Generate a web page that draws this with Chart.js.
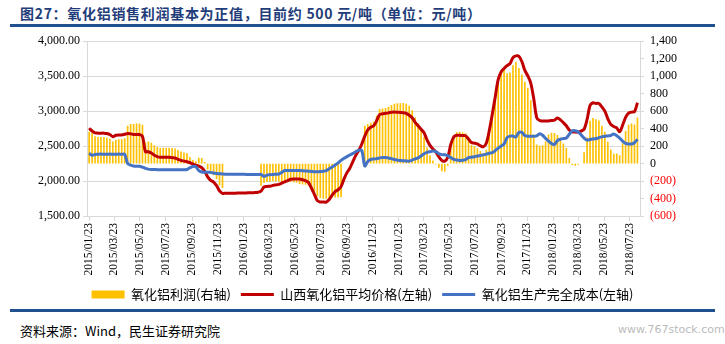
<!DOCTYPE html>
<html lang="zh-CN">
<head>
    <meta charset="UTF-8">
    <title>氧化铝销售利润</title>
    <script src="https://cdn.jsdelivr.net/npm/chart.js"></script>
    <style>
        body { margin: 0; background: #fff; }
        #wrap { position: relative; width: 725px; height: 344px; overflow: hidden; font-family: "Noto Sans CJK SC", sans-serif; }
        #title { position: absolute; left: 20px; top: 3px; font-size: 14px; letter-spacing: 0.7px; font-weight: bold; color: #1f3d7a; white-space: nowrap; }
        .rule { position: absolute; left: 10px; width: 705px; height: 3px; background: #21508f; }
        #source { position: absolute; left: 20px; top: 321px; font-size: 13px; color: #000; white-space: nowrap; }
        #mark { position: absolute; left: 618px; top: 323px; font-size: 11px; color: #bbb; font-family: "DejaVu Sans", sans-serif; }
        #chartBox { position: absolute; left: 0; top: 28px; }
    </style>
</head>
<body>
<div id="wrap">
    <div id="title">图27：氧化铝销售利润基本为正值，目前约 500 元/吨（单位：元/吨）</div>
    <div class="rule" style="top:24px"></div>
    <canvas id="chartBox" width="725" height="283"></canvas>
    <div class="rule" style="top:309px"></div>
    <div id="source">资料来源：Wind，民生证券研究院</div>
    <div id="mark">www.767stock.com</div>
</div>

<script>
    // weekly data, first week = 2015/01/23
    const startLabel = '2015/01/23';

    // 山西氧化铝平均价格 (左轴)
    const price = [
        2755, 2715, 2690, 2685, 2685, 2685, 2680, 2665, 2635, 2655,
        2660, 2660, 2670, 2680, 2675, 2665, 2665, 2665, 2640, 2420,
        2420, 2400, 2370, 2350, 2340, 2340, 2340, 2340, 2335, 2330,
        2310, 2295, 2285, 2275, 2262, 2245, 2228, 2212, 2190, 2140,
        2060, 2010, 1985, 1935, 1860, 1825, 1825, 1825, 1825, 1825,
        1828, 1828, 1830, 1830, 1832, 1832, 1835, 1840, 1855, 1915,
        1923, 1925, 1938, 1945, 1952, 1970, 1988, 2005, 2025, 2030,
        2030, 2030, 2018, 2005, 1980, 1900, 1810, 1720, 1700, 1700,
        1700, 1735, 1800, 1850, 1875, 1920, 2030, 2120, 2187, 2280,
        2370, 2440, 2530, 2643, 2730, 2770, 2790, 2862, 2950, 2962,
        2968, 2975, 2985, 2988, 2985, 2980, 2978, 2968, 2942, 2905,
        2840, 2790, 2740, 2690, 2590, 2510, 2460, 2415, 2345, 2295,
        2285, 2340, 2520, 2630, 2655, 2655, 2650, 2648, 2600, 2550,
        2542, 2530, 2505, 2490, 2540, 2720, 2950, 3200, 3450, 3560,
        3610, 3650, 3680, 3765, 3790, 3785, 3710, 3582, 3505, 3400,
        3180, 2908, 2865, 2860, 2860, 2860, 2865, 2872, 2900, 2875,
        2835, 2790, 2730, 2705, 2700, 2700, 2715, 2740, 2880, 3080,
        3120, 3110, 3110, 3060, 3000, 2890, 2810, 2780, 2760, 2705,
        2800, 2910, 2970, 2985, 2992, 3120
    ];

    // 氧化铝生产完全成本 (左轴)
    const cost = [
        2397, 2370, 2380, 2383, 2385, 2383, 2383, 2385, 2383, 2383,
        2385, 2383, 2383, 2250, 2228, 2215, 2211, 2211, 2198, 2182,
        2170, 2165, 2165, 2163, 2163, 2162, 2162, 2162, 2162, 2160,
        2160, 2162, 2162, 2165, 2190, 2208, 2205, 2150, 2130, 2126,
        2125, 2124, 2115, 2108, 2104, 2100, 2098, 2098, 2097, 2097,
        2097, 2096, 2096, 2095, 2095, 2095, 2094, 2094, 2094, 2065,
        2085, 2090, 2095, 2097, 2100, 2125, 2150, 2152, 2152, 2152,
        2150, 2150, 2148, 2145, 2141, 2138, 2132, 2132, 2135, 2140,
        2150, 2175, 2200, 2228, 2260, 2295, 2325, 2350, 2372, 2395,
        2420, 2440, 2435, 2215, 2280, 2308, 2315, 2320, 2330, 2337,
        2335, 2330, 2320, 2308, 2300, 2293, 2290, 2287, 2285, 2300,
        2318, 2330, 2360, 2390, 2410, 2420, 2428, 2420, 2390, 2378,
        2375, 2362, 2335, 2310, 2300, 2295, 2298, 2305, 2335, 2340,
        2348, 2358, 2365, 2374, 2385, 2397, 2405, 2435, 2470, 2500,
        2530, 2620, 2643, 2643, 2632, 2695, 2695, 2650, 2640, 2640,
        2640, 2645, 2676, 2655, 2610, 2570, 2536, 2525, 2578, 2598,
        2608, 2615, 2670, 2718, 2720, 2700, 2660, 2615, 2585, 2595,
        2602, 2606, 2620, 2632, 2640, 2645, 2652, 2672, 2648, 2615,
        2570, 2540, 2530, 2530, 2548, 2597
    ];

    // 氧化铝利润 (右轴)
    const profit = [
        360, 345, 310, 300, 300, 300, 295, 280, 250, 270,
        275, 275, 285, 430, 450, 450, 455, 455, 440, 240,
        250, 235, 205, 185, 175, 178, 178, 178, 173, 168,
        150, 135, 123, 113, 70, 37, 23, 62, 60, 14,
        -65, -114, -130, -173, -244, -275, null, null, null, null,
        null, null, null, null, null, null, null, null, -250, -215,
        -205, -205, -200, -200, -205, -210, -215, -210, -205, -210,
        -215, -230, -235, -240, -250, -280, -330, -370, -390, -400,
        -400, -395, -385, -385, -385, -380, null, null, null, null,
        null, null, null, 428, 450, 462, 475, 542, 620, 625,
        633, 645, 665, 680, 685, 687, 688, 681, 657, 605,
        522, 460, 380, 300, 180, 90, 32, -5, -45, -83,
        -90, -22, 185, 320, 355, 360, 352, 343, 265, 210,
        194, 172, 140, 116, 155, 323, 545, 765, 980, 1060,
        1080, 1030, 1037, 1122, 1158, 1090, 1015, 932, 865, 720,
        330, 214, 200, 205, 250, 330, 350, 347, 322, 277,
        227, 175, 60, -13, -20, -10, null, 125, 295, 485,
        518, 504, 490, 428, 360, 245, 158, 108, 112, 90,
        230, 370, 440, 455, 444, 523
    ];

    const tickLabels = [
        '2015/01/23', '2015/03/23', '2015/05/23', '2015/07/23', '2015/09/23', '2015/11/23',
        '2016/01/23', '2016/03/23', '2016/05/23', '2016/07/23', '2016/09/23', '2016/11/23',
        '2017/01/23', '2017/03/23', '2017/05/23', '2017/07/23', '2017/09/23', '2017/11/23',
        '2018/01/23', '2018/03/23', '2018/05/23', '2018/07/23'
    ];

    // days since first week
    function dayOf(label) {
        const p = label.split('/').map(Number);
        const s = startLabel.split('/').map(Number);
        return (Date.UTC(p[0], p[1] - 1, p[2]) - Date.UTC(s[0], s[1] - 1, s[2])) / 86400000;
    }
    const tickDays = tickLabels.map(dayOf);
    const weekDays = price.map((v, i) => i * 7);

    const serif = { family: 'Liberation Serif', size: 12 };

    const legendItems = [
        { text: '氧化铝利润(右轴)', fillStyle: '#FFC000', strokeStyle: '#FFC000', lineWidth: 0, pointStyle: 'rect', datasetIndex: 0 },
        { text: '山西氧化铝平均价格(左轴)', fillStyle: '#C00000', strokeStyle: '#C00000', lineWidth: 3, pointStyle: 'line', datasetIndex: 1 },
        { text: '氧化铝生产完全成本(左轴)', fillStyle: '#4472C4', strokeStyle: '#4472C4', lineWidth: 3, pointStyle: 'line', datasetIndex: 2 }
    ];

    const ctx = document.getElementById('chartBox').getContext('2d');
    new Chart(ctx, {
        type: 'bar',
        data: {
            labels: weekDays,
            datasets: [
                {
                    type: 'bar',
                    label: '氧化铝利润(右轴)',
                    data: profit,
                    yAxisID: 'yR',
                    backgroundColor: '#FFC000',
                    barThickness: 1,
                    order: 2
                },
                {
                    type: 'line',
                    label: '山西氧化铝平均价格(左轴)',
                    data: price,
                    yAxisID: 'y',
                    borderColor: '#C00000',
                    borderWidth: 3,
                    pointRadius: 0,
                    tension: 0.3,
                    order: 1
                },
                {
                    type: 'line',
                    label: '氧化铝生产完全成本(左轴)',
                    data: cost,
                    yAxisID: 'y',
                    borderColor: '#4472C4',
                    borderWidth: 3,
                    pointRadius: 0,
                    tension: 0.3,
                    order: 0
                }
            ]
        },
        options: {
            responsive: false,
            animation: false,
            layout: { padding: { top: 9, left: 0, right: 0, bottom: 0 } },
            plugins: {
                tooltip: { enabled: false },
                legend: {
                    position: 'bottom',
                    labels: {
                        usePointStyle: true,
                        pointStyleWidth: 33,
                        boxHeight: 8,
                        padding: 10,
                        color: '#000',
                        font: { family: 'Noto Sans CJK SC', size: 13 },
                        generateLabels: () => legendItems
                    }
                }
            },
            scales: {
                x: {
                    type: 'linear',
                    min: -5,
                    max: 1301,
                    offset: false,
                    afterBuildTicks: (s) => { s.ticks = tickDays.map(v => ({ value: v })); },
                    afterFit: (s) => { s.height = 62; },
                    ticks: {
                        autoSkip: false,
                        minRotation: 90,
                        maxRotation: 90,
                        padding: 2,
                        color: '#000',
                        font: { family: 'Liberation Serif', size: 11.5 },
                        callback: (v, i) => tickLabels[i]
                    },
                    grid: { drawOnChartArea: false, offset: false, color: '#d9d9d9', tickLength: 5 },
                    border: { color: '#d9d9d9' }
                },
                y: {
                    position: 'left',
                    min: 1500,
                    max: 4000,
                    afterFit: (s) => { s.width = 87; },
                    ticks: {
                        stepSize: 500,
                        padding: 3,
                        color: '#000',
                        font: serif,
                        callback: (v) => v.toLocaleString('en-US', { minimumFractionDigits: 2, maximumFractionDigits: 2 })
                    },
                    grid: { color: '#d9d9d9', tickLength: 4 },
                    border: { color: '#d9d9d9' }
                },
                yR: {
                    position: 'right',
                    min: -600,
                    max: 1400,
                    afterFit: (s) => { s.width = 85; },
                    ticks: {
                        stepSize: 200,
                        padding: 6,
                        font: serif,
                        color: (c) => c.tick.value < 0 ? '#ff0000' : '#000',
                        callback: (v) => v < 0 ? '(' + (-v) + ')' : v.toLocaleString('en-US')
                    },
                    grid: { drawOnChartArea: false, color: '#d9d9d9', tickLength: 4 },
                    border: { color: '#d9d9d9' }
                }
            }
        }
    });
</script>
</body>
</html>
